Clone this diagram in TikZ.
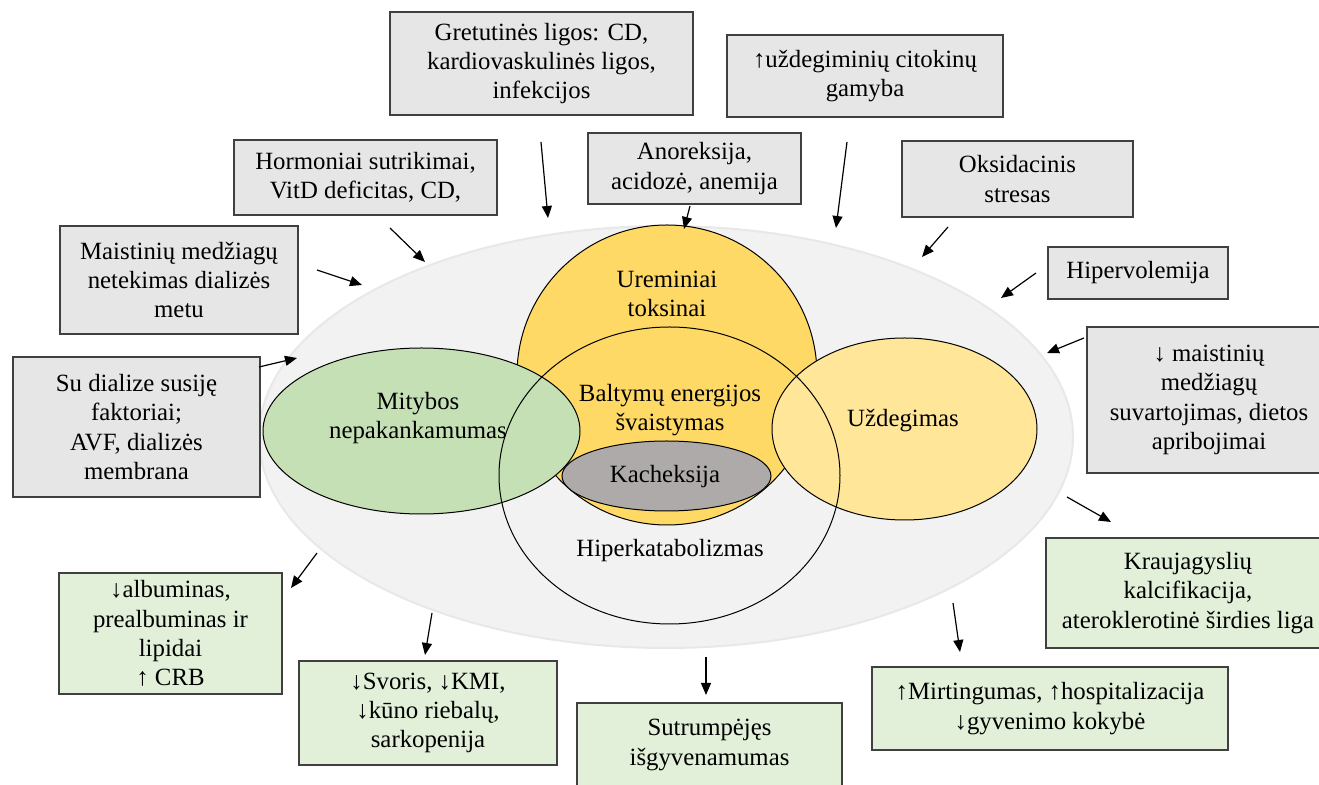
\documentclass[tikz,border=0pt]{standalone}
\usepackage{fontspec}
\setmainfont{Liberation Serif}
\usetikzlibrary{arrows.meta}
\definecolor{BoxGray}{RGB}{231,230,230}
\definecolor{BoxGreen}{RGB}{226,239,217}
\definecolor{BoxLine}{RGB}{64,64,64}
\definecolor{BgGray}{RGB}{242,242,242}
\definecolor{BgRim}{RGB}{232,232,232}
\definecolor{UremYellow}{RGB}{255,217,102}
\definecolor{UzdYellow}{RGB}{255,230,153}
\definecolor{MitGreen}{RGB}{197,224,180}
\definecolor{KachGray}{RGB}{174,170,170}

\begin{document}
\begin{tikzpicture}[x=0.5pt, y=-0.5pt,
    font=\fontsize{12.4}{14.6}\selectfont,
    causebox/.style={rectangle, draw=BoxLine, fill=BoxGray, line width=0.8pt, align=center, inner sep=2pt},
    effectbox/.style={causebox, fill=BoxGreen},
    venn/.style={draw=black, line width=0.5pt},
    vennlabel/.style={align=center, inner sep=0pt},
    arrow/.style={-{Triangle[length=6pt,width=5pt]}, line width=0.6pt}
]
\clip (0,0) rectangle (1319,785);

% background and Venn shapes
\filldraw[fill=BgGray, draw=BgRim, line width=1pt] (666,437) ellipse [x radius=203.5pt, y radius=105.5pt];
\filldraw[venn, fill=UremYellow] (667,375) circle [radius=75pt];
\filldraw[venn, fill=UzdYellow] (904.5,429) ellipse [x radius=66.25pt, y radius=45.5pt];
\filldraw[venn, fill=MitGreen] (421.5,431) ellipse [x radius=79.25pt, y radius=41.5pt];
\filldraw[venn, fill=KachGray] (666.5,476) ellipse [x radius=52.25pt, y radius=17.5pt];
\draw[venn] (669.5,475.5) ellipse [x radius=85.25pt, y radius=74.25pt];

\node[vennlabel] (urem) at (667,294) {Ureminiai\\toksinai};
\node[vennlabel] (baltym) at (670,410) {Baltymų energijos\\švaistymas};
\node[vennlabel] (kachek) at (665,477) {Kacheksija};
\node[vennlabel] (hiperk) at (670,551) {Hiperkatabolizmas};
\node[vennlabel] (mityb) at (418,418) {Mitybos\\nepakankamumas};
\node[vennlabel] (uzdeg) at (903,421) {Uždegimas};

% causes
\node[causebox, minimum width=151.5pt, minimum height=51.5pt] (gret) at (541.5,63.5) {Gretutinės ligos: CD,\\kardiovaskulinės ligos,\\infekcijos};
\node[causebox, minimum width=138pt, minimum height=41pt] (citok) at (865,76) {↑uždegiminių citokinų\\gamyba};
\node[causebox, minimum width=131.5pt, minimum height=37.5pt] (horm) at (365.5,177.5) {Hormoniai sutrikimai,\\VitD deficitas, CD,};
\node[causebox, minimum width=106.5pt, minimum height=35.5pt] (anor) at (694.5,168.5) {Anoreksija,\\acidozė, anemija};
\node[causebox, minimum width=115.5pt, minimum height=38pt] (oksid) at (1017.5,179) {Oksidacinis\\stresas};
\node[causebox, minimum width=119pt, minimum height=54pt] (netek) at (179,280) {Maistinių medžiagų\\netekimas dializės\\metu};
\node[causebox, minimum width=90pt, minimum height=26pt] (hiperv) at (1138,273) {Hipervolemija};
\node[causebox, minimum width=123.5pt, minimum height=70pt] (dializ) at (136.5,427) {Su dialize susiję\\faktoriai;\\AVF, dializės\\membrana};
\node[causebox, minimum width=122pt, minimum height=73pt] (suvart) at (1209,400) {↓ maistinių\\medžiagų\\suvartojimas, dietos\\apribojimai};

% consequences
\node[effectbox, minimum width=111.5pt, minimum height=60.5pt] (albu) at (170.5,633.5) {↓albuminas,\\prealbuminas ir\\lipidai\\↑ CRB};
\node[effectbox, minimum width=129pt, minimum height=52pt] (svoris) at (428,713) {↓Svoris, ↓KMI,\\↓kūno riebalų,\\sarkopenija};
\node[effectbox, minimum width=132.5pt, minimum height=42pt] (isgyv) at (709.5,745) {Sutrumpėjęs\\išgyvenamumas};
\node[effectbox, minimum width=178pt, minimum height=41.5pt] (mirt) at (1050,708.5) {↑Mirtingumas, ↑hospitalizacija\\↓gyvenimo kokybė};
\node[effectbox, minimum width=142pt, minimum height=55pt] (krauj) at (1188,593) {Kraujagyslių\\kalcifikacija,\\ateroklerotinė širdies liga};

% arrow ends
\coordinate (gret-s) at (541,142);    \coordinate (gret-e) at (548,218);
\coordinate (horm-s) at (390,228);    \coordinate (horm-e) at (425,262);
\coordinate (netek-s) at (317,270);   \coordinate (netek-e) at (362,285);
\coordinate (anor-s) at (690,206);    \coordinate (anor-e) at (684,229);
\coordinate (citok-s) at (847,142);   \coordinate (citok-e) at (836,228);
\coordinate (oksid-s) at (948,227);   \coordinate (oksid-e) at (922,257);
\coordinate (hiperv-s) at (1036,273); \coordinate (hiperv-e) at (1001,298);
\coordinate (suvart-s) at (1084,338); \coordinate (suvart-e) at (1047,353);
\coordinate (dializ-s) at (259,367);  \coordinate (dializ-e) at (297,358);
\coordinate (albu-s) at (317,553);    \coordinate (albu-e) at (291,588);
\coordinate (svoris-s) at (432,613);  \coordinate (svoris-e) at (425,655);
\coordinate (isgyv-s) at (706,657);   \coordinate (isgyv-e) at (706,695);
\coordinate (mirt-s) at (953,603);    \coordinate (mirt-e) at (960,652);
\coordinate (krauj-s) at (1067,497);  \coordinate (krauj-e) at (1111,522);

\foreach \n in {gret,horm,netek,anor,citok,oksid,hiperv,suvart,dializ,albu,svoris,isgyv,mirt,krauj}
    \draw[arrow] (\n-s) -- (\n-e);
\end{tikzpicture}
\end{document}
